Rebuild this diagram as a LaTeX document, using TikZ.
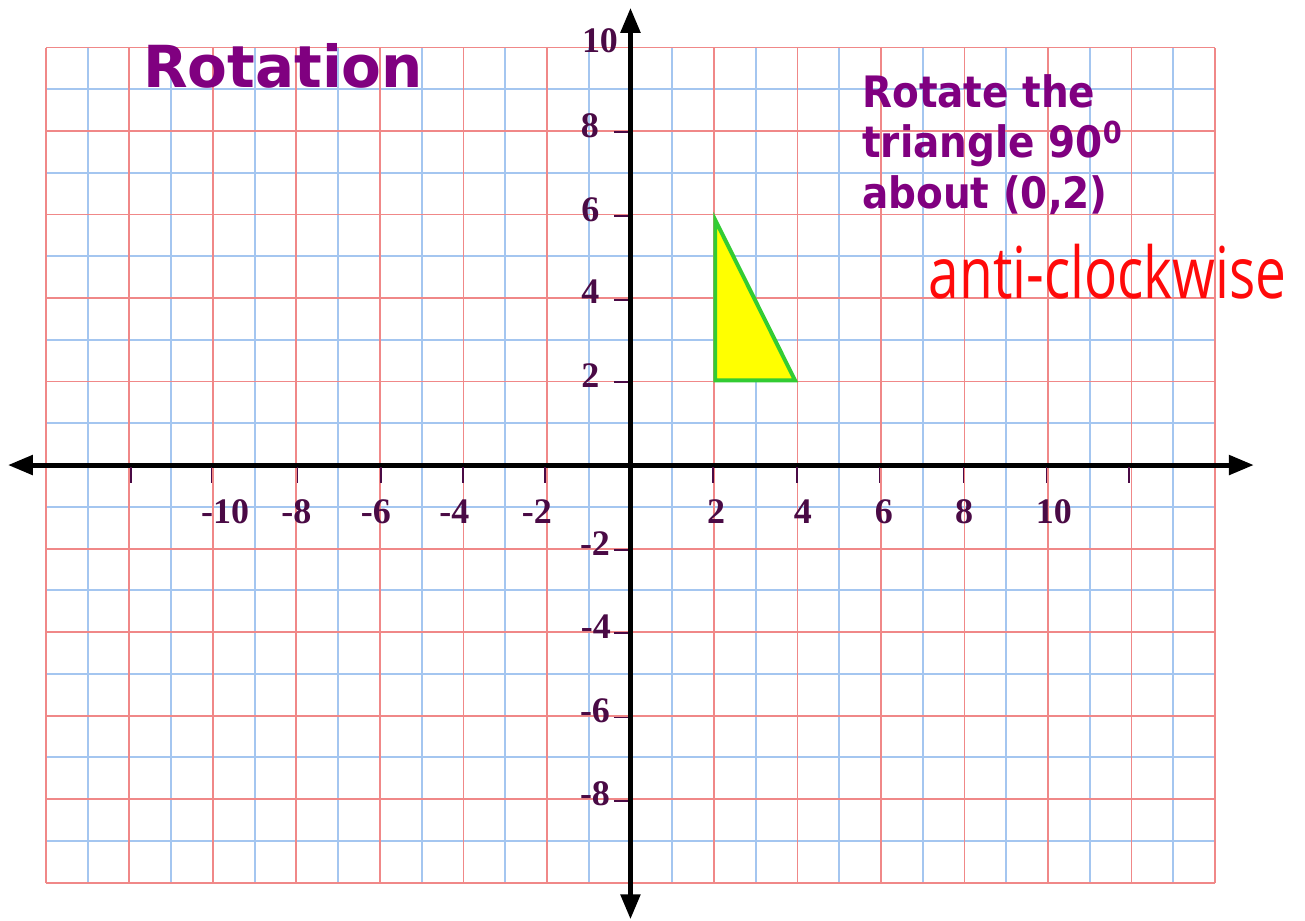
\documentclass[tikz,border=0pt]{standalone}
\usepackage{fontspec}
\usetikzlibrary{arrows.meta}
\newfontfamily\verdw{DejaVu Sans}
\newfontfamily\verd{DejaVu Sans Condensed}
\newfontfamily\timesf{Liberation Serif}
\newfontfamily\handf{Open Sans}
\definecolor{gridred}{HTML}{F08888}
\definecolor{gridblue}{HTML}{A4C6F0}
\definecolor{titlepurple}{HTML}{800080}
\definecolor{labelpurple}{HTML}{4A0A45}
\definecolor{trigreen}{HTML}{33CC33}
\definecolor{triyellow}{HTML}{FFFF00}
\definecolor{handred}{HTML}{FF0A0A}
\begin{document}
\begin{tikzpicture}[
  redline/.style={gridred, line width=1.3pt},
  blueline/.style={gridblue, line width=1.3pt},
  axisline/.style={black, line width=3.4pt, {Triangle[length=17pt,width=13pt]}-{Triangle[length=17pt,width=13pt]}},
  tickmark/.style={labelpurple, line width=1pt},
  axlabel/.style={labelpurple, font=\timesf\bfseries\fontsize{24.5}{24.5}\selectfont, inner sep=0pt, anchor=base},
  titletext/.style={titlepurple, font=\verdw\bfseries\fontsize{39.5}{39.5}\selectfont, inner sep=0pt, anchor=base west},
  instrtext/.style={titlepurple, font=\verd\bfseries\fontsize{29.5}{29.5}\selectfont, inner sep=0pt, anchor=base west},
  handtext/.style={handred, font=\handf\fontsize{37.5}{37.5}\selectfont, inner sep=0pt, anchor=base west},
  tribox/.style={draw=trigreen, line width=2.7pt, fill=triyellow, line join=miter}
]
\useasboundingbox (-15.10,-10.898) rectangle (16.155,11.138);
% grid
\foreach \x in {-13,-11,...,13} \draw[blueline] (\x,-10) -- (\x,10);
\foreach \y in {-9,-7,...,9} \draw[blueline] (-14,\y) -- (14,\y);
\foreach \x in {-14,-12,...,14} \draw[redline] (\x,-10) -- (\x,10);
\foreach \y in {-10,-8,...,10} \draw[redline] (-14,\y) -- (14,\y);
% axes
\coordinate (xl) at (-14.91,0);
\coordinate (xr) at (14.93,0);
\coordinate (yb) at (0,-10.88);
\coordinate (yt) at (0,10.95);
\draw[axisline] (xl) -- (xr);
\draw[axisline] (yb) -- (yt);
% x ticks
\foreach \x in {-11.96,-10.04,-7.98,-5.97,-4.01,-2.05,1.98,3.99,5.96,7.98,9.96,11.94}
  \draw[tickmark] (\x,-0.05) -- (\x,-0.43);
% y ticks
\foreach \y in {7.976,5.96,3.95,1.99,-2.04,-4.02,-6.04,-8.05}
  \draw[tickmark] (-0.4,\y) -- (-0.05,\y);
% x labels
\node[axlabel] (xm10) at (-9.71,-1.389) {-10};
\node[axlabel] (xm8) at (-8.0,-1.389) {-8};
\node[axlabel] (xm6) at (-6.10,-1.389) {-6};
\node[axlabel] (xm4) at (-4.22,-1.389) {-4};
\node[axlabel] (xm2) at (-2.24,-1.389) {-2};
\node[axlabel] (xp2) at (2.05,-1.389) {2};
\node[axlabel] (xp4) at (4.13,-1.389) {4};
\node[axlabel] (xp6) at (6.07,-1.389) {6};
\node[axlabel] (xp8) at (7.99,-1.389) {8};
\node[axlabel] (xp10) at (10.14,-1.389) {10};
% y labels
\node[axlabel] (yp10) at (-0.73,9.87) {10};
\node[axlabel] (yp8) at (-0.97,7.856) {8};
\node[axlabel] (yp6) at (-0.96,5.844) {6};
\node[axlabel] (yp4) at (-0.96,3.88) {4};
\node[axlabel] (yp2) at (-0.96,1.868) {2};
\node[axlabel] (ym2) at (-0.85,-2.156) {-2};
\node[axlabel] (ym4) at (-0.83,-4.144) {-4};
\node[axlabel] (ym6) at (-0.85,-6.156) {-6};
\node[axlabel] (ym8) at (-0.85,-8.144) {-8};
% triangle
\draw[tribox] (2.03,2.03) -- (2.03,5.87) -- (3.94,2.03) -- cycle;
% texts
\node[titletext] (title) at (-11.68,9.054) {Rotation};
\node[instrtext] (instr1) at (5.545,8.575) {Rotate the};
\node[instrtext] (instr2) at (5.545,7.377) {triangle 90\textsuperscript{0}};
\node[instrtext] (instr3) at (5.545,6.156) {about (0,2)};
\node[handtext] (hand) at (7.14,4.0) {\scalebox{1}[1.3]{anti-clockwise}};
\end{tikzpicture}
\end{document}
